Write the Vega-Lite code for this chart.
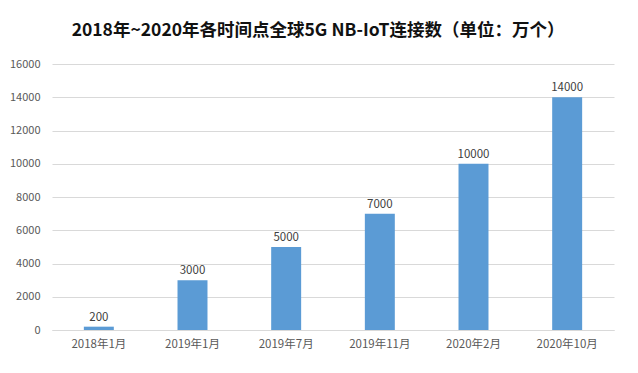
{
  "$schema": "https://vega.github.io/schema/vega-lite/v6.json",
  "width": 562,
  "height": 266,
  "autosize": {"type": "none"},
  "padding": {"left": 52, "top": 64, "right": 24, "bottom": 43},
  "background": "white",
  "config": {
    "font": "Noto Sans CJK SC",
    "view": {"stroke": null}
  },
  "title": {
    "text": "2018年~2020年各时间点全球5G NB-IoT连接数（单位：万个）",
    "fontSize": 17.5,
    "fontWeight": "bold",
    "color": "#111111",
    "anchor": "middle",
    "dx": -15,
    "offset": 19
  },
  "data": {
    "values": [
      {"time": "2018年1月", "value": 200},
      {"time": "2019年1月", "value": 3000},
      {"time": "2019年7月", "value": 5000},
      {"time": "2019年11月", "value": 7000},
      {"time": "2020年2月", "value": 10000},
      {"time": "2020年10月", "value": 14000}
    ]
  },
  "encoding": {
    "x": {
      "field": "time",
      "type": "nominal",
      "sort": null,
      "title": null,
      "scale": {"paddingInner": 0.68, "paddingOuter": 0.34},
      "axis": {
        "labelAngle": 0,
        "labelColor": "#595959",
        "labelFontSize": 11.5,
        "labelPadding": 8,
        "ticks": false,
        "domainColor": "#D9D9D9"
      }
    },
    "y": {
      "field": "value",
      "type": "quantitative",
      "title": null,
      "scale": {"domain": [0, 16000]},
      "axis": {
        "values": [0, 2000, 4000, 6000, 8000, 10000, 12000, 14000, 16000],
        "format": "d",
        "labelColor": "#595959",
        "labelFontSize": 11,
        "labelPadding": 12,
        "ticks": false,
        "domain": false,
        "gridColor": "#D9D9D9"
      }
    }
  },
  "layer": [
    {"mark": {"type": "bar", "color": "#5B9BD5"}},
    {
      "mark": {"type": "text", "dy": -9, "fontSize": 11.5, "color": "#404040"},
      "encoding": {"text": {"field": "value", "type": "quantitative", "format": "d"}}
    }
  ]
}
